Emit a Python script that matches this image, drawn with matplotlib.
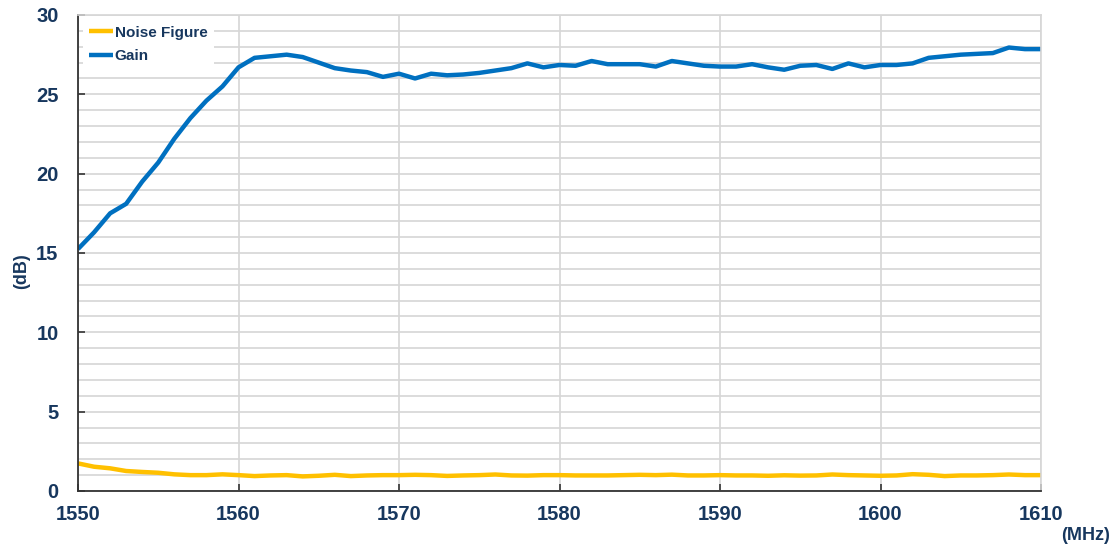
import matplotlib
matplotlib.use("Agg")
import matplotlib.pyplot as plt
import numpy as np

freq = list(range(1550, 1611))
gain = [15.25, 16.3, 17.5, 18.1, 19.5, 20.7, 22.2, 23.5, 24.6, 25.5,
        26.7, 27.3, 27.4, 27.5, 27.35, 27.0, 26.65, 26.5, 26.4, 26.1,
        26.3, 26.0, 26.3, 26.2, 26.25, 26.35, 26.5, 26.65, 26.95, 26.7,
        26.85, 26.8, 27.1, 26.9, 26.9, 26.9, 26.75, 27.1, 26.95, 26.8,
        26.75, 26.75, 26.9, 26.7, 26.55, 26.8, 26.85, 26.6, 26.95, 26.7,
        26.85, 26.85, 26.95, 27.3, 27.4, 27.5, 27.55, 27.6, 27.95, 27.85,
        27.85]
noise = [1.74, 1.53, 1.43, 1.26, 1.2, 1.15, 1.05, 1.0, 1.0, 1.05,
         1.0, 0.94, 0.98, 1.0, 0.92, 0.96, 1.02, 0.94, 0.98, 1.0,
         1.0, 1.02, 1.0, 0.95, 0.98, 1.0, 1.04, 0.98, 0.97, 1.0,
         1.0, 0.98, 0.98, 0.98, 1.0, 1.02, 1.0, 1.03, 0.98, 0.98,
         1.0, 0.98, 0.98, 0.96, 0.99, 0.97, 0.98, 1.04, 1.0, 0.98,
         0.96, 0.98, 1.06, 1.02, 0.94, 0.98, 0.98, 1.0, 1.04, 1.0,
         1.0]

x_ticks = [1550, 1560, 1570, 1580, 1590, 1600, 1610]
y_ticks = [0, 5, 10, 15, 20, 25, 30]

txt = "#17375E"
plt.rcParams['font.family'] = ['Liberation Sans', 'DejaVu Sans']

fig = plt.figure(figsize=(11.2, 5.5), dpi=100)
ax = fig.add_axes([78/1120, 1-491/550, (1041-78)/1120, (491-15)/550])

ax.plot(freq, noise, color="#FFC000", lw=3.2, label="Noise Figure",
        solid_joinstyle='round', solid_capstyle='butt')
ax.plot(freq, gain, color="#0070C0", lw=3.2, label="Gain",
        solid_joinstyle='round', solid_capstyle='butt')

ax.set_xlim(1550, 1610)
ax.set_ylim(0, 30)
ax.set_xticks(x_ticks)
ax.set_yticks(y_ticks)
ax.set_yticks(np.arange(0, 31, 1), minor=True)
ax.grid(True, which='major', color="#D6D6D6", lw=1.2)
ax.grid(True, which='minor', axis='y', color="#D6D6D6", lw=1.2)
ax.set_axisbelow(True)

ax.tick_params(axis='both', which='major', direction='in', length=5, width=1.2,
               color='#333333', labelsize=14.5, labelcolor=txt)
ax.tick_params(axis='y', which='minor', length=0)
ax.tick_params(axis='x', pad=10)
ax.tick_params(axis='y', pad=14)
ax.tick_params(top=False, right=False)
for lab in ax.get_xticklabels() + ax.get_yticklabels():
    lab.set_fontweight('bold')

for s in ['left', 'bottom']:
    ax.spines[s].set_color('#333333')
    ax.spines[s].set_linewidth(1.3)
for s in ['top', 'right']:
    ax.spines[s].set_color('#D6D6D6')
    ax.spines[s].set_linewidth(1.2)

fig.text(22/1120, 1-271/550, "(dB)", rotation=90, ha='center', va='center',
         fontsize=13, fontweight='bold', color=txt)
fig.text(1086/1120, 1-535/550, "(MHz)", ha='center', va='center',
         fontsize=13, fontweight='bold', color=txt)

leg = ax.legend(loc='upper left', bbox_to_anchor=(0.0, 1.0), frameon=True,
                fontsize=11, handlelength=1.6, handletextpad=0.1,
                labelspacing=0.6, borderaxespad=0.3, borderpad=0.4)
leg.get_frame().set_facecolor('white')
leg.get_frame().set_edgecolor('none')
leg.get_frame().set_alpha(1)
for t in leg.get_texts():
    t.set_color(txt)
    t.set_fontweight('bold')

fig.savefig("out.png", dpi=100)
